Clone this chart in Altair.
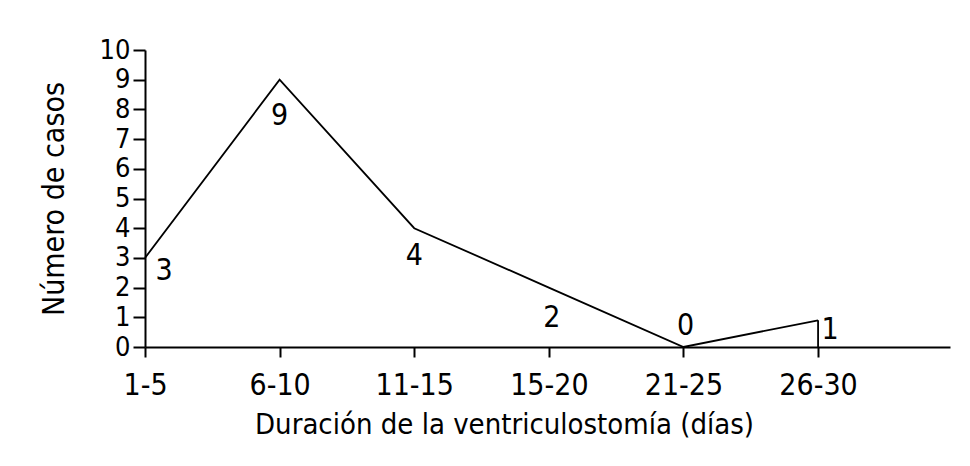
import altair as alt
import pandas as pd

categories = ["1-5", "6-10", "11-15", "15-20", "21-25", "26-30"]
cases = [3, 9, 4, 2, 0, 0.9]
case_labels = ["3", "9", "4", "2", "0", "1"]

# label placement offsets (styling, px)
label_dx = [19, 0, 0, 3, 2, 12]
label_dy = [13, 36, 28, 30, -21, 10]

df = pd.DataFrame({
    "idx": list(range(len(categories))),
    "cat": categories,
    "cases": cases,
    "label": case_labels,
})

FONT = "'DejaVu Sans Condensed', 'Liberation Sans Narrow', 'Roboto Condensed', sans-serif"
label_expr = "[" + ",".join(f"'{c}'" for c in categories) + "][datum.value]"

x_axis = alt.Axis(
    values=list(range(len(categories))),
    labelExpr=label_expr,
    title="Duración de la ventriculostomía (días)",
    titleX=359,
    titleAlign="center",
    titleAnchor="start",
    grid=False,
    labelFlush=False,
    labelOverlap=False,
    tickSize=10,
    tickWidth=2,
    tickColor="black",
    domainColor="black",
    domainWidth=2,
    labelFont=FONT,
    labelFontSize=30,
    labelColor="black",
    labelPadding=13,
    titleFont=FONT,
    titleFontSize=29,
    titleFontWeight="normal",
    titleColor="black",
    titlePadding=10,
)
y_axis = alt.Axis(
    values=list(range(0, 11)),
    tickCount=11,
    title="Número de casos",
    grid=False,
    labelOverlap=False,
    labelFlush=False,
    tickSize=12,
    tickWidth=2,
    tickColor="black",
    domainColor="black",
    domainWidth=2,
    labelFont=FONT,
    labelFontSize=27,
    labelColor="black",
    labelPadding=3,
    titleFont=FONT,
    titleFontSize=30,
    titleFontWeight="normal",
    titleColor="black",
    titlePadding=30,
)
x_scale = alt.Scale(domain=[0, 5.98], nice=False, zero=False)
y_scale = alt.Scale(domain=[0, 10], nice=False)

def X(field):
    return alt.X(field, scale=x_scale, axis=x_axis)

def Y(field):
    return alt.Y(field, scale=y_scale, axis=y_axis)

base = alt.Chart(df)
line = base.mark_line(color="black", strokeWidth=1.8).encode(x=X("idx:Q"), y=Y("cases:Q"))
drop = (
    base.transform_filter(alt.datum.idx == len(categories) - 1)
    .transform_calculate(zero="0")
    .mark_rule(color="black", strokeWidth=1.8)
    .encode(x=X("idx:Q"), y=Y("zero:Q"), y2="cases:Q")
)

layers = [line, drop]
for i in range(len(categories)):
    layers.append(
        base.transform_filter(alt.datum.idx == i)
        .mark_text(font=FONT, fontSize=30, color="black", baseline="middle",
                   align="center", dx=label_dx[i], dy=label_dy[i])
        .encode(x=X("idx:Q"), y=Y("cases:Q"), text="label:N")
    )

chart = alt.layer(*layers).properties(
    width=805, height=297,
    padding={"left": 31, "top": 28, "right": 5, "bottom": 5},
    background="white",
).configure_view(stroke=None)

chart.save("out.html", embed_options={"renderer": "svg", "actions": False})
